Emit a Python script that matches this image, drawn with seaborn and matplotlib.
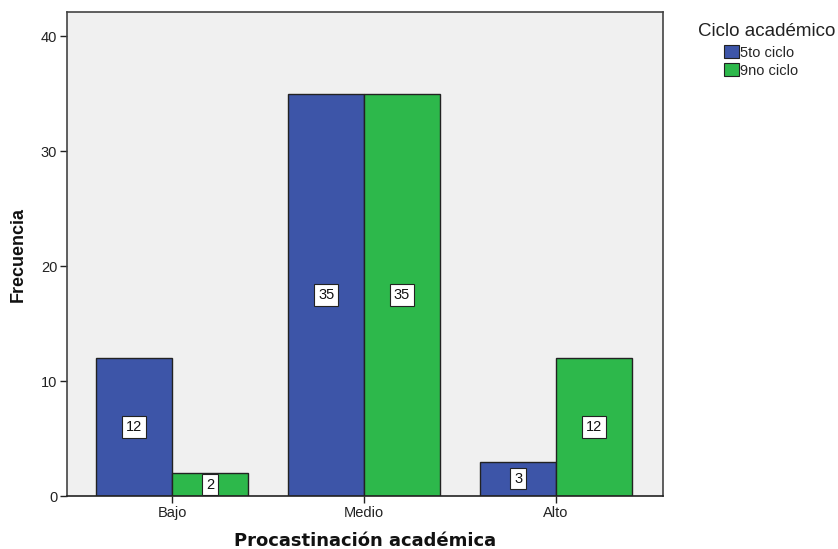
import matplotlib
matplotlib.use("Agg")
import matplotlib.pyplot as plt
import seaborn as sns
import pandas as pd
from matplotlib.patches import Patch

categories = ["Bajo", "Medio", "Alto"]
series_names = ["5to ciclo", "9no ciclo"]
values_5to = [12, 35, 3]
values_9no = [2, 35, 12]
colors = ["#3D55A8", "#2DB84B"]

df = pd.DataFrame({
    "Procastinación académica": categories * 2,
    "Ciclo académico": [series_names[0]] * 3 + [series_names[1]] * 3,
    "Frecuencia": values_5to + values_9no,
})

sns.set_theme(style="white")
plt.rcParams["font.family"] = ["Liberation Sans", "DejaVu Sans"]

fig = plt.figure(figsize=(8.38, 5.49), dpi=100)
ax = fig.add_axes([0.0800, 0.0965, 0.7112, 0.8815])
ax.set_facecolor("#F0F0F0")

sns.barplot(data=df, x="Procastinación académica", y="Frecuencia",
            hue="Ciclo académico", order=categories, hue_order=series_names,
            palette=colors, width=0.79, saturation=1, edgecolor="#222222",
            linewidth=1.0, ax=ax, legend=False)

ax.set_ylim(0, 42.1)
ax.set_xlim(-0.547, 2.557)
ax.set_yticks([0, 10, 20, 30, 40])
ax.tick_params(axis="both", which="both", direction="out", length=5,
               width=1, color="#222222", labelsize=10.5, labelcolor="#222222",
               left=True, bottom=True, pad=2)

for s in ax.spines.values():
    s.set_color("#444444")
    s.set_linewidth(1.2)
ax.spines["bottom"].set_color("#222222")

# value labels centred in each bar
for cont in ax.containers:
    for bar in cont:
        h = bar.get_height()
        ax.text(bar.get_x() + bar.get_width() / 2, h / 2, f"{int(h)}",
                ha="center", va="center", fontsize=10.5, color="#111111",
                bbox=dict(boxstyle="square,pad=0.25", facecolor="white",
                          edgecolor="#222222", linewidth=0.8))

ax.set_xlabel("")
ax.set_ylabel("Frecuencia", fontsize=13, fontweight="bold", labelpad=10,
              color="#111111")
fig.text(365 / 838, 1 - 541 / 549, "Procastinación académica",
         ha="center", va="center", fontsize=13, fontweight="bold",
         family=["DejaVu Sans"], color="#111111")

fig.text(767 / 838, 1 - 31 / 549, "Ciclo académico", ha="center",
         va="center", fontsize=13.5, color="#222222")
handles = [Patch(facecolor=c, edgecolor="#222222", linewidth=0.8) for c in colors]
fig.legend(handles, series_names, loc="upper left",
           bbox_to_anchor=(724 / 838, 1 - 45 / 549),
           frameon=False, fontsize=10.5, handlelength=1.0, handleheight=1.0,
           handletextpad=0.1, labelspacing=0.25, borderaxespad=0,
           borderpad=0)

fig.savefig("out.png", dpi=100)
